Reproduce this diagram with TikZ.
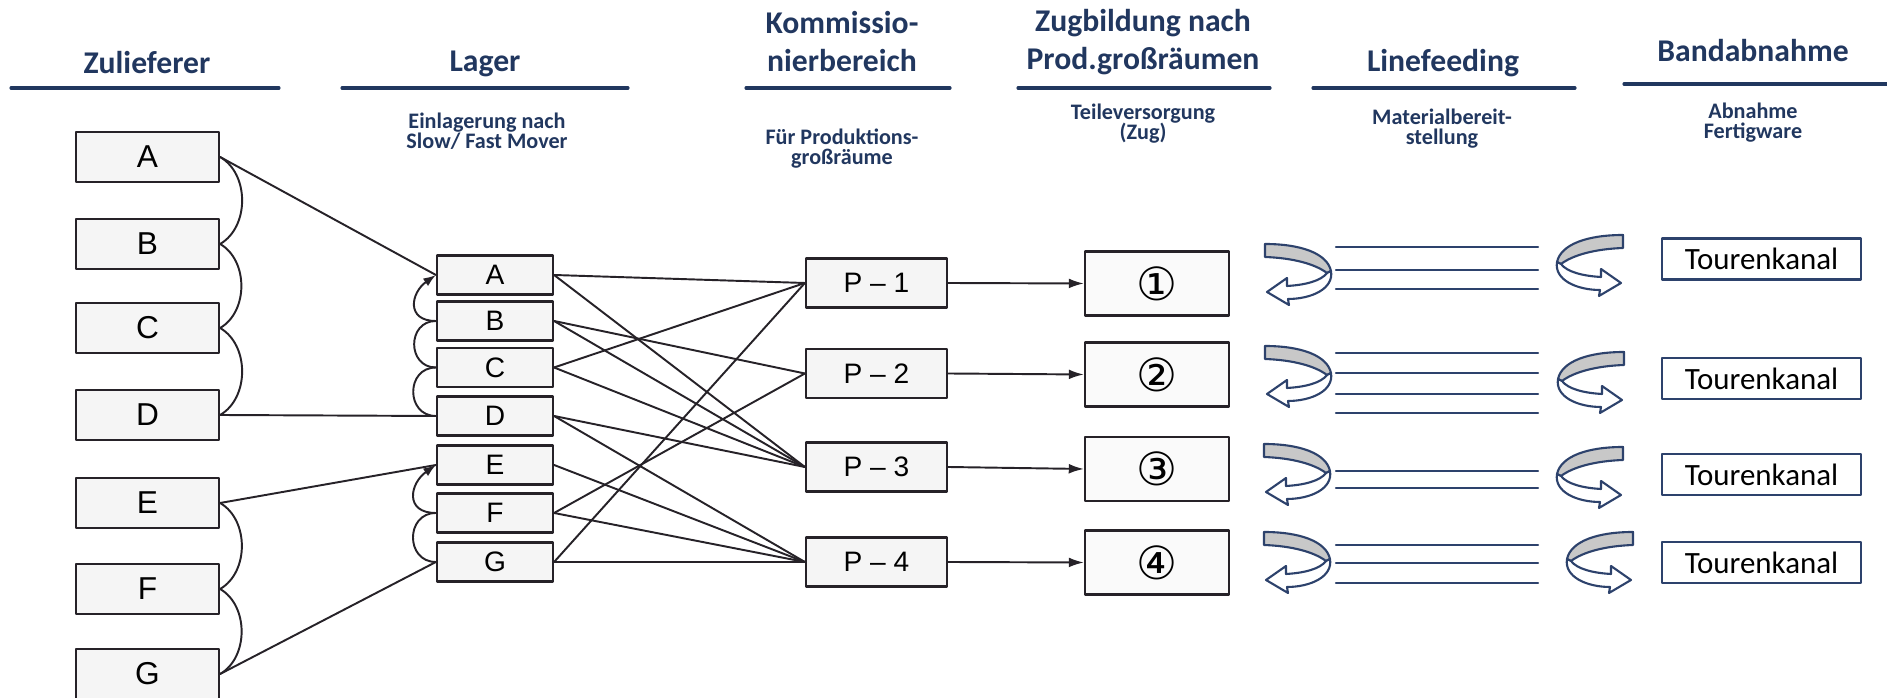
\documentclass[tikz,border=0pt]{standalone}
\usepackage{fontspec}
\setmainfont{Carlito}
\newfontfamily\scanfont{Liberation Sans}
\newfontfamily\ringfont{DejaVu Sans}
\usetikzlibrary{arrows.meta}
\setlength{\lineskiplimit}{-5pt}

\definecolor{hdrblue}{RGB}{33,55,95}
\definecolor{rimblue}{RGB}{45,66,108}
\definecolor{scanink}{RGB}{38,34,40}
\definecolor{bandgray}{RGB}{200,200,200}

\tikzset{
  turnarrow/.pic={
    \filldraw[fill=bandgray,draw=rimblue,line width=0.6pt]
      (0,0) .. controls (35,0) and (62,9) .. (66,27) -- (62,29)
      .. controls (50,20) and (28,14) .. (0,13) -- cycle;
    \filldraw[fill=white,draw=rimblue,line width=0.6pt]
      (66,27) .. controls (69,45) and (46,55) .. (23,55) -- (24,61) -- (2,48)
      -- (22,34) -- (22,42) .. controls (40,41) and (56,37) .. (62,29) -- cycle;
  }
}

\begin{document}
\begin{tikzpicture}[x=0.01cm,y=-0.01cm,line cap=round,line join=round,
  hdr/.style={text=hdrblue,font=\fontsize{9}{10.8}\selectfont\bfseries,align=center,inner sep=0pt},
  subhdr/.style={text=hdrblue,font=\fontsize{6.3}{5.7}\selectfont\bfseries,align=center,inner sep=0pt},
  hdrline/.style={hdrblue,line width=0.9pt},
  scanbox/.style={draw=scanink,line width=0.6pt,fill=black!4,inner sep=0pt},
  zulbox/.style={scanbox,minimum width=1.43cm,minimum height=0.50cm,font=\scanfont\fontsize{9}{10}\selectfont},
  lagbox/.style={scanbox,minimum width=1.16cm,minimum height=0.39cm,font=\scanfont\fontsize{8}{9}\selectfont},
  pbox/.style={scanbox,minimum width=1.41cm,minimum height=0.49cm,font=\scanfont\fontsize{8}{9}\selectfont},
  numbox/.style={scanbox,fill=black!2,minimum width=1.44cm,minimum height=0.64cm,font=\ringfont\fontsize{13}{14}\selectfont},
  tkbox/.style={draw=rimblue,line width=0.7pt,fill=white,inner sep=0pt,minimum width=1.99cm,minimum height=0.41cm,font=\fontsize{8.8}{10}\selectfont},
  conn/.style={draw=scanink,line width=0.55pt},
  feedline/.style={rimblue,line width=0.65pt}]
 \useasboundingbox (0,0) rectangle (1887,698);

 % headings
 \node[hdr] (hZul) at (147,63) {Zulieferer};
 \node[hdr] (hLag) at (485,64) {Lager};
 \node[hdr] (hKom) at (842,42) {Kommissio-\\nierbereich};
 \node[hdr] (hZug) at (1143,42) {Zugbildung nach\\Prod.großräumen};
 \node[hdr] (hLin) at (1443,63) {Linefeeding};
 \node[hdr] (hBan) at (1753,51) {Bandabnahme};
 \draw[hdrline] (11,88) -- (279,88);
 \draw[hdrline] (342,88) -- (628,88);
 \draw[hdrline] (746,88) -- (950,88);
 \draw[hdrline] (1018,88) -- (1270,88);
 \draw[hdrline] (1313,88) -- (1575,88);
 \draw[hdrline] (1624,84) -- (1887,84);
 \node[subhdr] (sLag) at (487,131) {Einlagerung nach\\Slow/ Fast Mover};
 \node[subhdr] (sKom) at (842,149) {Für Produktions-\\großräume};
 \node[subhdr] (sZug) at (1143,124) {Teileversorgung\\(Zug)};
 \node[subhdr] (sLin) at (1442,129) {Materialbereit-\\stellung};
 \node[subhdr] (sBan) at (1753,123) {Abnahme\\Fertigware};

 % suppliers and store
 \foreach \n/\yy in {A/157,B/244,C/328,D/415,E/503,F/589,G/674}
  \node[zulbox] (Z\n) at (147.5,\yy) {\n};
 \foreach \n/\yy in {A/275,B/321,C/367.5,D/416,E/465,F/513,G/562}
  \node[lagbox] (L\n) at (495,\yy) {\n};
 \foreach \a/\b in {A/B,B/C,C/D,E/F,F/G}
  \draw[conn] (Z\a.east) to[bend left=60] (Z\b.east);
 \foreach \a/\b in {A/A,D/D,E/E,G/G}
  \draw[conn] (Z\a.east) -- (L\b.west);
 \foreach \a/\b in {C/B,D/C,G/F}
  \draw[conn] (L\a.west) to[out=180,in=180,looseness=1.6] (L\b.west);
 \draw[conn,-{Latex[length=3.6pt,width=2.6pt]}] (LB.west) to[out=180,in=215,looseness=1.7] (LA.west);
 \draw[conn,-{Latex[length=3.6pt,width=2.6pt]}] (LF.west) to[out=180,in=215,looseness=1.7] (LE.west);

 % picking and trains
 \foreach \k/\yy in {1/283,2/373.5,3/467,4/562}
  \node[pbox] (P\k) at (876.5,\yy) {P – \k};
 \node[numbox] (K1) at (1157,283.5) {①};
 \node[numbox] (K2) at (1157,374.5) {②};
 \node[numbox] (K3) at (1157,469) {③};
 \node[numbox] (K4) at (1157,562.5) {④};
 \foreach \a/\b in {A/1,A/3,B/2,B/3,C/1,C/3,D/3,D/4,E/4,F/2,F/4,G/1,G/4}
  \draw[conn] (L\a.east) -- (P\b.west);
 \foreach \k in {1,...,4}
  \draw[conn,-{Latex[length=4.3pt,width=2.8pt]}] (P\k.east) -- (K\k.west);

 % line feeding
 \foreach \yy in {247,270,289,353,373,394,413,471,488,545,563,583}
  \draw[feedline] (1336,\yy) -- (1538,\yy);
 \pic at (1265,244) {turnarrow};
 \pic at (1265,346) {turnarrow};
 \pic at (1264,444) {turnarrow};
 \pic at (1264,532) {turnarrow};
 \pic[xscale=-1] at (1623,235) {turnarrow};
 \pic[xscale=-1] at (1624,352) {turnarrow};
 \pic[xscale=-1] at (1623,447) {turnarrow};
 \pic[xscale=-1] at (1633,532) {turnarrow};
 \node[tkbox] (T1) at (1761.5,259) {Tourenkanal};
 \node[tkbox] (T2) at (1761.5,378.5) {Tourenkanal};
 \node[tkbox] (T3) at (1761.5,474.5) {Tourenkanal};
 \node[tkbox] (T4) at (1761.5,562.5) {Tourenkanal};
\end{tikzpicture}
\end{document}
